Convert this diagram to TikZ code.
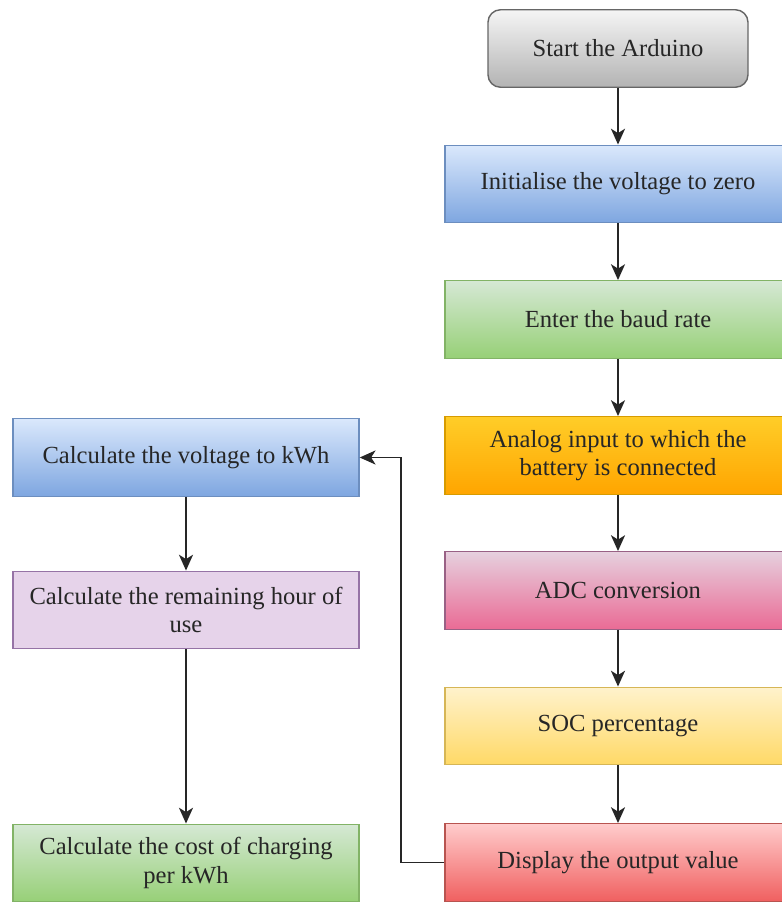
\documentclass[tikz,border=0pt]{standalone}
\usepackage{fontspec}
\newfontfamily\timesfont{Liberation Serif}
\usetikzlibrary{arrows.meta,positioning}

\definecolor{grayT}{HTML}{F5F5F5}\definecolor{grayB}{HTML}{B3B3B3}\definecolor{grayD}{HTML}{666666}
\definecolor{blueT}{HTML}{DAE8FC}\definecolor{blueB}{HTML}{7EA6E0}\definecolor{blueD}{HTML}{6C8EBF}
\definecolor{greenT}{HTML}{D5E8D4}\definecolor{greenB}{HTML}{97D077}\definecolor{greenD}{HTML}{82B366}
\definecolor{orangeT}{HTML}{FFCD28}\definecolor{orangeB}{HTML}{FFA500}\definecolor{orangeD}{HTML}{D79B00}
\definecolor{pinkT}{HTML}{E6D0DE}\definecolor{pinkB}{HTML}{EA6B95}\definecolor{pinkD}{HTML}{996185}
\definecolor{yellowT}{HTML}{FFF2CC}\definecolor{yellowB}{HTML}{FFD966}\definecolor{yellowD}{HTML}{D6B656}
\definecolor{redT}{HTML}{FFCCCC}\definecolor{redB}{HTML}{F06060}\definecolor{redD}{HTML}{B85450}
\definecolor{lilac}{HTML}{E6D3EA}\definecolor{lilacD}{HTML}{9673A6}

\begin{document}
\begin{tikzpicture}[
    every node/.style={font=\timesfont\fontsize{14}{16}\selectfont, align=center, text=black!85},
    stepbox/.style={draw=#1D, line width=0.8pt, top color=#1T, bottom color=#1B,
                    minimum width=6.92cm, minimum height=1.55cm, inner sep=2pt},
    startbox/.style={stepbox=gray, rounded corners=0.25cm, minimum width=5.2cm},
    arr/.style={-{Stealth[length=9pt,width=8pt,inset=2.5pt]}, line width=1.1pt, black!85}
]
  \useasboundingbox (0,0) rectangle (15.64,-18.06);

  % Columna derecha: lectura de la bateria
  \node[startbox] (start) at (12.36,-0.97) {Start the Arduino};
  \node[stepbox=blue]   (init)  at (12.36,-3.68)  {Initialise the voltage to zero};
  \node[stepbox=green]  (baud)  at (12.36,-6.39)  {Enter the baud rate};
  \node[stepbox=orange] (analog) at (12.36,-9.11) {Analog input to which the\\ battery is connected};
  \node[stepbox=pink]   (adc)   at (12.36,-11.81) {ADC conversion};
  \node[stepbox=yellow] (soc)   at (12.36,-14.52) {SOC percentage};
  \node[stepbox=red]    (disp)  at (12.36,-17.25) {Display the output value};

  % Columna izquierda: calculos
  \node[stepbox=blue]  (kwh)  at (3.72,-9.15)  {Calculate the voltage to kWh};
  \node[draw=lilacD, line width=0.8pt, fill=lilac, minimum width=6.92cm,
        minimum height=1.55cm, inner sep=2pt] (hour) at (3.72,-12.2)
       {Calculate the remaining hour of\\ use};
  \node[stepbox=green] (cost) at (3.72,-17.26) {Calculate the cost of charging\\ per kWh};

  \draw[arr] (start) -- (init);
  \draw[arr] (init) -- (baud);
  \draw[arr] (baud) -- (analog);
  \draw[arr] (analog) -- (adc);
  \draw[arr] (adc) -- (soc);
  \draw[arr] (soc) -- (disp);

  % Retorno hacia la columna izquierda
  \draw[arr] (disp.west) -- ++(-0.86,0) |- (kwh.east);
  \draw[arr] (kwh) -- (hour);
  \draw[arr] (hour) -- (cost);
\end{tikzpicture}
\end{document}
